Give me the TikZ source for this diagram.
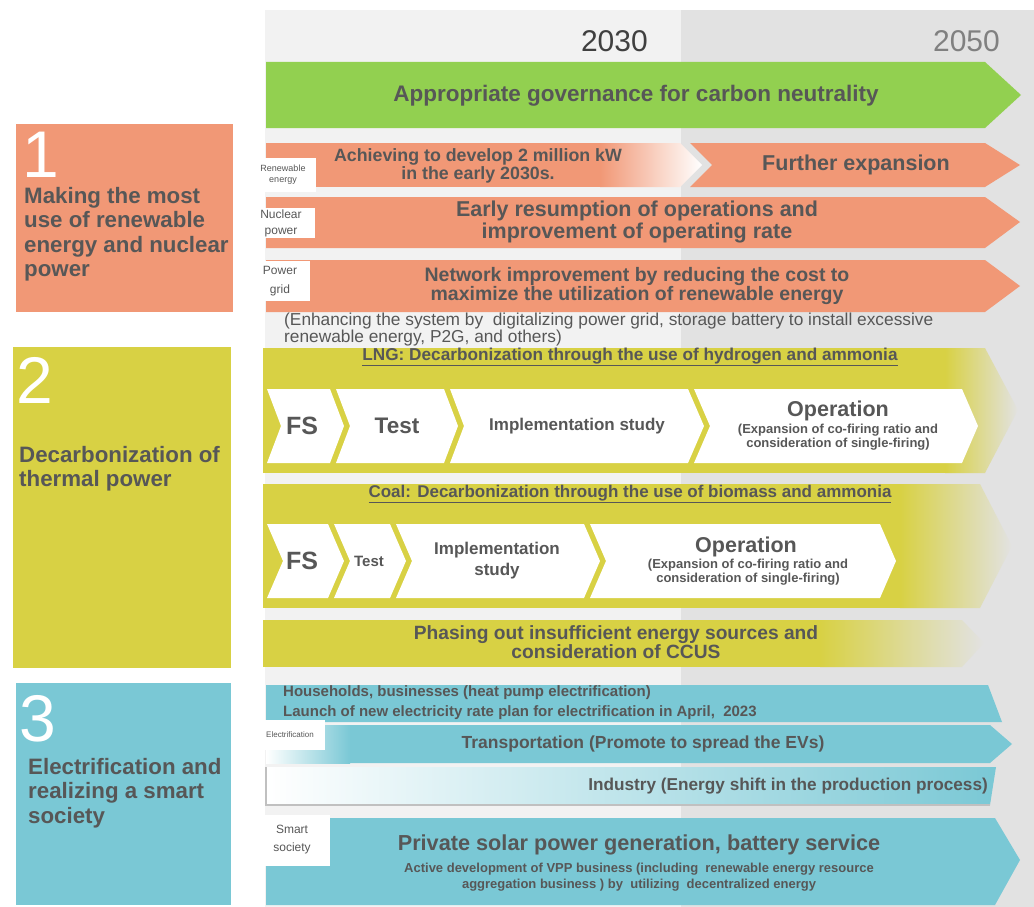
\documentclass[tikz,border=0pt]{standalone}
\usepackage{fontspec}
\setmainfont{Liberation Sans}
\usepackage{xcolor}
\definecolor{rmsalmon}{RGB}{241,152,118}
\definecolor{rmolive}{RGB}{216,209,68}
\definecolor{rmteal}{RGB}{122,200,213}
\definecolor{rmgreen}{RGB}{146,208,80}
\definecolor{rmtext}{RGB}{87,87,87}
\definecolor{rmdarktext}{RGB}{64,64,64}
\definecolor{rmyear}{RGB}{128,128,128}
\definecolor{rmlight}{RGB}{242,242,242}
\definecolor{rmdark}{RGB}{226,226,226}
\usetikzlibrary{positioning}

\begin{document}
\begin{tikzpicture}[x=1pt, y=-1pt,
  sect/.style={rectangle, fill=#1, anchor=north west, inner sep=0pt},
  num/.style={anchor=north west, inner sep=0pt, text=white, font=\fontsize{66}{66}\selectfont},
  stitle/.style={anchor=north west, inner sep=0pt, align=left, text=rmtext,
                 font=\fontsize{22.3}{24.5}\selectfont\bfseries},
  btxt/.style 2 args={inner sep=0pt, align=center, text=rmtext, font=\fontsize{#1}{#2}\selectfont\bfseries},
  tag/.style 2 args={rectangle, fill=white, inner sep=0pt, align=center, text=rmtext,
                     font=\fontsize{#1}{#2}\selectfont},
  step box/.style={fill=white}
]
\useasboundingbox (0,0) rectangle (1034,907);

% Timeline background
\fill[rmlight] (265,10) rectangle (681,907);
\fill[rmdark] (681,10) rectangle (1034,907);
\node[anchor=east, inner sep=0pt, text=rmdarktext, font=\fontsize{30}{30}\selectfont] (y2030) at (648,41) {2030};
\node[anchor=east, inner sep=0pt, text=rmyear, font=\fontsize{30}{30}\selectfont] (y2050) at (1000,41) {2050};

% Governance arrow
\fill[rmgreen] (266,62) -- (985,62) -- (1021,95) -- (985,128) -- (266,128) -- cycle;
\node[btxt={22.5}{22.5}] (gov) at (636,96) {Appropriate governance for carbon neutrality};

% Section 1: renewable energy and nuclear power
\node[sect=rmsalmon, minimum width=217, minimum height=188] (s1) at (16,124) {};
\node[num] (n1) at (22,132) {1};
\node[stitle] (t1) at (24,187) {Making the most\\use of renewable\\energy and nuclear\\power};

\fill[rmsalmon] (266,143) rectangle (600,187);
\shade[left color=rmsalmon, right color=white] (600,143) -- (680,143) -- (702,165) -- (680,187) -- (600,187) -- cycle;
\fill[rmsalmon] (690,143) -- (985,143) -- (1020,165) -- (985,187) -- (690,187) -- (712,165) -- cycle;
\fill[rmsalmon] (266,197) -- (985,197) -- (1020,222) -- (985,248) -- (266,248) -- cycle;
\fill[rmsalmon] (266,260) -- (985,260) -- (1020,286) -- (985,312) -- (266,312) -- cycle;
\node[btxt={17.8}{17.5}] (ach) at (478,166) {Achieving to develop 2 million kW\\in the early 2030s.};
\node[btxt={21.5}{21.5}] (further) at (856,165) {Further expansion};
\node[btxt={21.5}{18}] (early) at (637,222) {Early resumption of operations and\\improvement of operating rate};
\node[btxt={19.5}{18.5}] (network) at (637,286) {Network improvement by reducing the cost to\\maximize the utilization of renewable energy};
\node[tag={9}{11}, minimum width=66, minimum height=34] (trenew) at (283,175) {Renewable\\energy};
\node[tag={12}{16}, minimum width=68, minimum height=30] (tnuc) at (281,223) {Nuclear\\power};
\node[tag={12}{19}, minimum width=60, minimum height=40] (tgrid) at (280,281) {Power\\grid};
\node[anchor=west, inner sep=0pt, align=left, text=rmtext, font=\fontsize{17.3}{14.5}\selectfont] (note) at (284,329.5)
  {(Enhancing the system by~ digitalizing power grid, storage battery to install excessive\\renewable energy, P2G, and others)};

% Section 2: thermal power
\node[sect=rmolive, minimum width=218, minimum height=321] (s2) at (13,347) {};
\node[num] (n2) at (16,357) {2};
\node[stitle] (t2) at (19,446) {Decarbonization of\\thermal power};

% LNG
\fill[rmolive] (263,348) rectangle (945,473);
\shade[left color=rmolive, right color=rmdark] (945,348) -- (985,348) -- (1018,410) -- (985,473) -- (945,473) -- cycle;
\node[btxt={17.2}{17.2}] (lng) at (630,357) {\underline{LNG: Decarbonization through the use of hydrogen and ammonia}};
\fill[step box] (267,389) -- (330,389) -- (344,426) -- (330,463) -- (267,463) -- (281,426) -- cycle;
\fill[step box] (336,389) -- (444,389) -- (458,426) -- (444,463) -- (336,463) -- (350,426) -- cycle;
\fill[step box] (450,389) -- (688,389) -- (704,426) -- (688,463) -- (450,463) -- (464,426) -- cycle;
\fill[step box] (694,389) -- (962,389) -- (978,426) -- (962,463) -- (694,463) -- (710,426) -- cycle;
\node[btxt={25}{25}] (lfs) at (302,426) {FS};
\node[btxt={22.5}{22.5}] (ltest) at (397,426) {Test};
\node[btxt={17}{17}] (limpl) at (577,426) {Implementation study};
\node[btxt={21.5}{21.5}] (lop) at (838,411) {Operation};
\node[btxt={13}{14}] (lopsub) at (838,437) {(Expansion of co-firing ratio and\\consideration of single-firing)};

% Coal
\fill[rmolive] (263,484) rectangle (900,608);
\shade[left color=rmolive, right color=rmdark] (900,484) -- (980,484) -- (1012,546) -- (980,608) -- (900,608) -- cycle;
\node[btxt={17}{17}] (coal) at (630,494) {\underline{Coal: Decarbonization through the use of biomass and ammonia}};
\fill[step box] (267,524) -- (328,524) -- (344,561) -- (328,598) -- (267,598) -- (283,561) -- cycle;
\fill[step box] (334,524) -- (390,524) -- (406,561) -- (390,598) -- (334,598) -- (350,561) -- cycle;
\fill[step box] (396,524) -- (584,524) -- (600,561) -- (584,598) -- (396,598) -- (412,561) -- cycle;
\fill[step box] (590,524) -- (880,524) -- (896,561) -- (880,598) -- (590,598) -- (606,561) -- cycle;
\node[btxt={25}{25}] (cfs) at (302,561) {FS};
\node[btxt={15}{15}] (ctest) at (369,561) {Test};
\node[btxt={17}{21}] (cimpl) at (497,561) {Implementation\\study};
\node[btxt={21.5}{21.5}] (cop) at (746,547) {Operation};
\node[btxt={13}{14}] (copsub) at (748,572) {(Expansion of co-firing ratio and\\consideration of single-firing)};

% Phasing out
\fill[rmolive] (263,620) rectangle (820,667);
\shade[left color=rmolive, right color=rmdark] (820,620) -- (962,620) -- (984,643) -- (962,667) -- (820,667) -- cycle;
\node[btxt={19.2}{18.5}] (phase) at (616,642) {Phasing out insufficient energy sources and\\consideration of CCUS};

% Section 3: electrification and smart society
\node[sect=rmteal, minimum width=215, minimum height=222] (s3) at (16,683) {};
\node[num] (n3) at (19,695) {3};
\node[stitle] (t3) at (28,758) {Electrification and\\realizing a smart\\society};

\fill[rmteal] (266,685) -- (988,685) -- (1002,722) -- (266,722) -- cycle;
\fill[rmteal] (350,725) -- (990,725) -- (1012,744) -- (990,763) -- (350,763) -- cycle;
\shade[left color=white, right color=rmteal] (266,725) rectangle (350,763);
\shade[left color=white, right color=rmteal] (266,767) -- (996,767) -- (990,805) -- (266,805) -- cycle;
\draw[rmdark!85!black, line width=1.5] (266,767) -- (266,805) -- (990,805);
\fill[rmteal] (266,818) -- (995,818) -- (1020,860) -- (995,905) -- (266,905) -- cycle;
\node[anchor=west, inner sep=0pt, align=left, text=rmtext, font=\fontsize{15}{20}\selectfont\bfseries] (house) at (283,703)
  {Households, businesses (heat pump electrification)\\Launch of new electricity rate plan for electrification in April,~ 2023};
\node[tag={8}{8}, minimum width=70, minimum height=30] (telec) at (290,735) {Electrification};
\node[btxt={17.5}{17.5}] (trans) at (643,744) {Transportation (Promote to spread the EVs)};
\node[btxt={17.2}{17.2}, anchor=east] (indus) at (988,786) {Industry (Energy shift in the production process)};
\node[tag={12}{18}, minimum width=75, minimum height=51] (tsmart) at (292,840) {Smart\\society};
\node[btxt={21.7}{21.7}] (solar) at (639,845) {Private solar power generation, battery service};
\node[btxt={13}{16}] (vpp) at (639,877) {Active development of VPP business (including~ renewable energy resource\\aggregation business ) by~ utilizing~ decentralized energy};
\end{tikzpicture}
\end{document}
